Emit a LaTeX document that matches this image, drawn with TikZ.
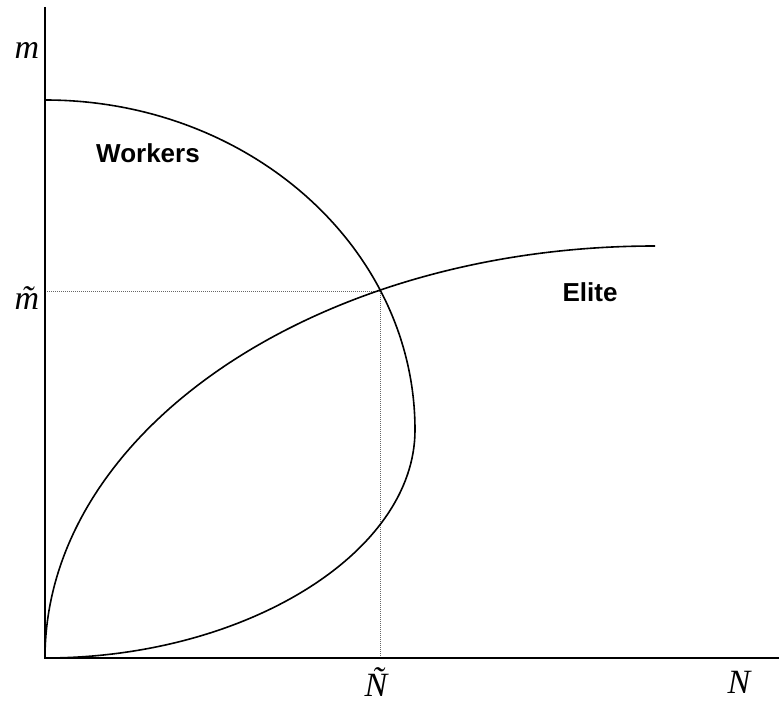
\documentclass[tikz,border=0pt]{standalone}
\usepackage{fontspec}
\setmainfont{Liberation Serif}
\newfontfamily\labelfont{Liberation Sans}
\usetikzlibrary{positioning}
\tikzset{
  axis/.style={
    line width=2pt,
    draw=black
  },
  curve/.style={
    line width=1.6pt,
    draw=black
  },
  guide/.style={
    line width=0.9pt,
    draw=black!60,
    dash pattern=on 1pt off 1pt
  },
  varlabel/.style={
    inner sep=0pt,
    font=\fontsize{34}{34}\selectfont\itshape
  },
  grouplabel/.style={
    inner sep=0pt,
    font=\fontsize{26}{26}\selectfont\labelfont\bfseries
  }
}

\begin{document}
\begin{tikzpicture}[x=1pt,y=1pt]
  \useasboundingbox (0,0) rectangle (779,705);

  \coordinate (orig) at (45,47);
  \coordinate (ytop) at (45,698);
  \coordinate (xend) at (779,47);
  \coordinate (eq) at (380,414);
  \coordinate (eqy) at (45,414);
  \coordinate (eqx) at (380,47);
  \coordinate (wtop) at (45,605);

  % labels
  \node[varlabel] (mlab) at (27,655) {m};
  \node[varlabel] (mtlab) at (27,407) {\~m};
  \node[varlabel] (Ntlab) at (376,23) {\~N};
  \node[varlabel] (Nlab) at (739,23) {N};
  \node[grouplabel] (workers) at (148,552) {Workers};
  \node[grouplabel] (elite) at (590,413) {Elite};

  % equilibrium guides
  \draw[guide] (eqy) -- (eq);
  \draw[guide] (eq) -- (eqx);

  % axes
  \draw[axis] (ytop) -- (orig) -- (xend);

  % workers curve
  \draw[curve] (wtop) arc[start angle=90, end angle=0, x radius=370pt, y radius=330pt]
    .. controls (415,152) and (245,47) .. (orig);

  % elite curve
  \draw[curve] (orig) arc[start angle=180, end angle=90, x radius=610pt, y radius=412pt];
\end{tikzpicture}
\end{document}
